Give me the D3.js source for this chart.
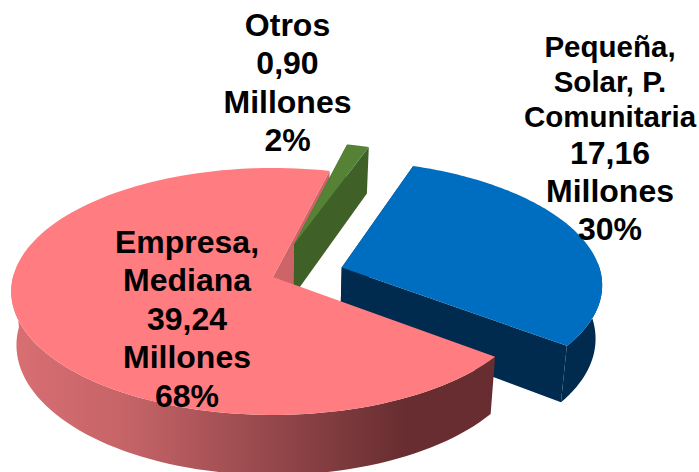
<!DOCTYPE html>
<html>
<head>
<meta charset="utf-8">
<style>
  html, body { margin: 0; background: #fff; }
  svg { display: block; }
  text { font-family: "Liberation Sans", Arial, sans-serif; font-weight: bold; font-size: 32px; fill: #000; text-anchor: middle; }
</style>
</head>
<body>
<svg width="699" height="472"></svg>
<script src="https://cdn.jsdelivr.net/npm/d3@7"></script>
<script>
const names = [['Empresa,', 'Mediana'], ['Otros'], ['Pequeña,', 'Solar, P.', 'Comunitaria']]
const values = [39.24, 0.90, 17.16]

const colors = ['#ff7c80', '#558235', '#006ec0']
const wallColors = ['#cc6468', '#3f6127', '#002b4e']
const explode = [0, 0.29, 0.278]
const labelPos = [[187, 253], [287.5, 36], [610, 57]]

const svg = d3.select('svg')

// perspective of the disc: u goes right, v goes to the back
const cx = 273, cy = 277, rx = 260, ry = 121.8, persp = 0.117
const depth = 53, shrink = 0.98

function project(u, v, bottom) {
  const w = 1 + persp * v
  const s = bottom ? shrink : 1
  return [cx + s * rx * u / w, cy - ry * v / w + (bottom ? depth / w : 0)]
}

const firstAngle = 127.5
const pie = d3.pie().sort(null).startAngle(firstAngle * Math.PI / 180).endAngle((firstAngle + 360) * Math.PI / 180)
const slices = pie(values)
const line = d3.line()

const defs = svg.append('defs')
const grad = defs.append('linearGradient').attr('id', 'pinkWall')
  .attr('gradientUnits', 'userSpaceOnUse').attr('x1', 10).attr('x2', 494).attr('y1', 0).attr('y2', 0)
grad.append('stop').attr('offset', 0).attr('stop-color', '#d86f73')
grad.append('stop').attr('offset', 0.25).attr('stop-color', '#c46367')
grad.append('stop').attr('offset', 0.82).attr('stop-color', '#672d30')
grad.append('stop').attr('offset', 1).attr('stop-color', '#672d30')

// offset of the slice and its rim as points on the disc
function slicePts(s, i) {
  const mid = (s.startAngle + s.endAngle) / 2
  const ox = explode[i] * Math.sin(mid), oy = explode[i] * Math.cos(mid)
  const steps = d3.range(0, 121).map(k => s.startAngle + (s.endAngle - s.startAngle) * k / 120)
  return {
    apex: [ox, oy],
    rim: steps.map(a => [ox + Math.sin(a), oy + Math.cos(a)]),
    front: steps.filter(a => Math.cos(a) < 0.05).map(a => [ox + Math.sin(a), oy + Math.cos(a)])
  }
}

function drawFace(a, b, i) {
  // quad between two disc points, top and bottom plane
  svg.append('path')
    .attr('d', line([project(a[0], a[1]), project(b[0], b[1]), project(b[0], b[1], true), project(a[0], a[1], true)]) + 'Z')
    .attr('fill', wallColors[i])
}

// only the part of the rim that faces the viewer
function drawOuter(p, i) {
  if (!p.front.length) return
  const top = p.front.map(d => project(d[0], d[1]))
  const bot = p.front.map(d => project(d[0], d[1], true)).reverse()
  svg.append('path')
    .attr('d', line(top.concat(bot)) + 'Z')
    .attr('fill', i === 0 ? 'url(#pinkWall)' : wallColors[i])
}

function drawTop(p, i) {
  const pts = [p.apex].concat(p.rim).map(d => project(d[0], d[1]))
  svg.append('path').attr('d', line(pts) + 'Z').attr('fill', colors[i])
}

const parts = slices.map(slicePts)

// back to front: inner cut of the big slice, then Otros, Pequeña, big slice
drawFace(parts[0].apex, parts[0].rim[120], 0)
;[1, 2].forEach(i => {
  drawFace(parts[i].apex, parts[i].rim[0], i)
  drawFace(parts[i].apex, parts[i].rim[120], i)
  drawOuter(parts[i], i)
  drawTop(parts[i], i)
})
drawOuter(parts[0], 0)
drawTop(parts[0], 0)

// labels
const fmtNum = d3.formatLocale({ decimal: ',', thousands: '.', grouping: [3], currency: ['', ''] }).format('.2f')
const total = d3.sum(values)
const lineH = 38.4
names.forEach((n, i) => {
  const lines = n.concat([fmtNum(values[i]), 'Millones', Math.round(values[i] / total * 100) + '%'])
  const small = i === 2 ? n.length : 0 // first lines of the right label are set smaller
  const t = svg.append('text').attr('x', labelPos[i][0]).attr('y', labelPos[i][1])
  t.selectAll('tspan').data(lines).enter().append('tspan')
    .attr('x', labelPos[i][0])
    .attr('font-size', (d, k) => k < small ? 29.5 : 32)
    .attr('dy', (d, k) => k === 0 ? 0 : (k < small ? 35 : k === small && small ? 36.5 : lineH))
    .text(d => d)
})
</script>
</body>
</html>
